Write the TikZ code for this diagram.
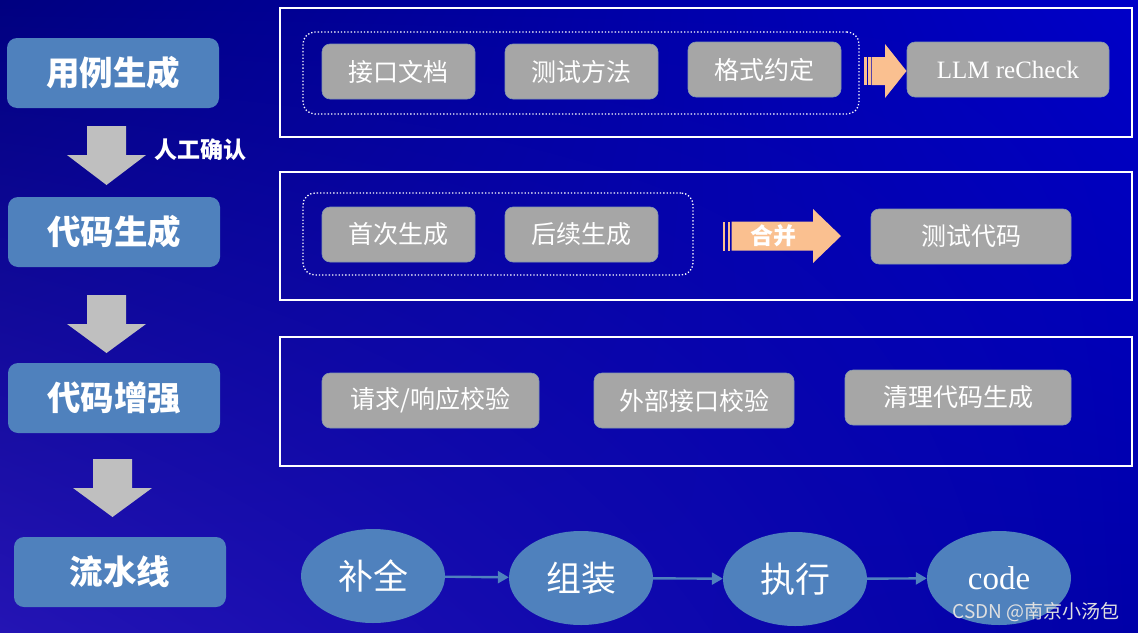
\documentclass[tikz,border=0pt]{standalone}
\usepackage{fontspec}
\setmainfont{Liberation Serif}
\newfontfamily\cjk{Noto Sans CJK SC}
\usetikzlibrary{shapes.geometric,arrows.meta,shadings}
\definecolor{bgUL}{HTML}{000080}
\definecolor{bgUR}{HTML}{0000C8}
\definecolor{bgLL}{HTML}{2414B4}
\definecolor{bgLR}{HTML}{0000A8}
\definecolor{stepblue}{HTML}{4F81BD}
\definecolor{boxgray}{HTML}{A6A6A6}
\definecolor{arrowgray}{HTML}{BFBFBF}
\definecolor{peach}{HTML}{FAC090}
\newcommand\grayDown[4]{% cx, top, neck, tip
  \fill[arrowgray] (#1-19.5,#2) -- (#1+19.5,#2) -- (#1+19.5,#3) -- (#1+39.5,#3)
    -- (#1,#4) -- (#1-39.5,#3) -- (#1-19.5,#3) -- cycle;}
\newcommand\peachRight[9]{% s1a s1b s2a s2b shaftL neck tip ymid shafthalf ; head half = 27
  \fill[peach] (#1,#8-#9) rectangle (#2,#8+#9);
  \fill[peach] (#3,#8-#9) rectangle (#4,#8+#9);
  \fill[peach] (#5,#8-#9) -- (#6,#8-#9) -- (#6,#8-27) -- (#7,#8) -- (#6,#8+27)
    -- (#6,#8+#9) -- (#5,#8+#9) -- cycle;}
\begin{document}
\begin{tikzpicture}[x=1pt,y=-1pt,
  leftbox/.style={fill=stepblue, rounded corners=10pt, minimum width=212pt,
    minimum height=70pt, inner sep=0pt, text=white,
    font=\cjk\bfseries\fontsize{33.5}{36}\selectfont},
  graybox/.style={fill=boxgray, draw=stepblue!40!boxgray, line width=0.6pt,
    rounded corners=8pt, minimum width=153pt, minimum height=55pt, inner sep=0pt,
    text=white, font=\cjk\fontsize{25}{28}\selectfont},
  frame/.style={draw=white, line width=2pt, inner sep=0pt},
  dotframe/.style={draw=white, dotted, line width=1.3pt, rounded corners=12pt, inner sep=0pt},
  stage/.style={ellipse, fill=stepblue, minimum width=144pt, minimum height=94pt,
    inner sep=0pt, text=white, font=\cjk\fontsize{35}{38}\selectfont},
  flow/.style={draw=stepblue, line width=2.4pt, -{Triangle[length=11pt,width=12pt]}},
  bold label/.style={text=white, font=\cjk\bfseries\fontsize{23}{26}\selectfont, inner sep=0pt}
]
\useasboundingbox (0,0) rectangle (1138,632);
\shade[upper left=bgUL, upper right=bgUR, lower left=bgLL, lower right=bgLR]
  (0,0) rectangle (1138,632);

% left column
\node[leftbox] (s1) at (113,73) {用例生成};
\node[leftbox] (s2) at (114,232) {代码生成};
\node[leftbox] (s3) at (114,398) {代码增强};
\node[leftbox] (s4) at (120,572) {流水线};

\grayDown{106.5}{126}{155}{185}
\grayDown{106.5}{295}{324}{353}
\grayDown{112.5}{459}{488}{517}
\node[bold label] (confirm) at (200,150) {人工确认};

% frames
\node[frame, minimum width=852pt, minimum height=129pt] (f1) at (706,72.5) {};
\node[frame, minimum width=852pt, minimum height=128pt] (f2) at (706,236) {};
\node[frame, minimum width=852pt, minimum height=129pt] (f3) at (706,401.5) {};

\node[dotframe, minimum width=556pt, minimum height=82pt] (d1) at (581,73) {};
\node[dotframe, minimum width=390pt, minimum height=82pt] (d2) at (498,234) {};

% row 1
\node[graybox] (g1) at (398.5,71.5) {接口文档};
\node[graybox] (g2) at (581.5,71.5) {测试方法};
\node[graybox] (g3) at (764.5,69.5) {格式约定};
\node[graybox, minimum width=202pt, font=\fontsize{25}{28}\selectfont] (g4) at (1008,69.5) {LLM reCheck};
\peachRight{864}{866.7}{868}{870.7}{871.7}{885}{906.5}{71}{14}

% row 2
\node[graybox] (g5) at (398.5,234.5) {首次生成};
\node[graybox] (g6) at (581.5,234.5) {后续生成};
\node[graybox, minimum width=200pt] (g7) at (971,236.5) {测试代码};
\peachRight{723.3}{725}{727.7}{730}{731.7}{813}{841}{236}{14.5}
\node[bold label] (merge) at (773.5,236) {合并};

% row 3
\node[graybox, minimum width=217pt] (g8) at (430.5,400.5) {请求/响应校验};
\node[graybox, minimum width=200pt] (g9) at (694,400.5) {外部接口校验};
\node[graybox, minimum width=226pt] (g10) at (958,397.5) {清理代码生成};

% pipeline
\node[stage] (e1) at (373,576) {补全};
\node[stage] (e2) at (581,578) {组装};
\node[stage] (e3) at (795,579) {执行};
\node[stage, font=\fontsize{33}{36}\selectfont] (e4) at (999,578) {code};
\draw[flow] (e1) -- (e2);
\draw[flow] (e2) -- (e3);
\draw[flow] (e3) -- (e4);

\node[text=white!88!black, font=\cjk\fontsize{19}{22}\selectfont, inner sep=0pt] (wm) at (1036,612) {CSDN @南京小汤包};
\end{tikzpicture}
\end{document}
